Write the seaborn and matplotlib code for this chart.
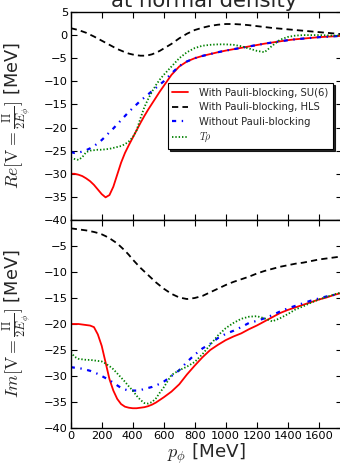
import numpy as np
import pandas as pd
import seaborn as sns
import matplotlib
matplotlib.use("Agg")
import matplotlib.pyplot as plt

# phi momentum grid [MeV]
p_phi = list(range(0, 625, 25)) + list(range(650, 1800, 50))

# Real part of the optical potential [MeV]
re_su6 = [-30.0, -30.0, -30.2, -30.5, -31.0, -31.6, -32.4, -33.4, -34.4, -35.1,
          -34.6, -32.8, -30.2, -27.6, -25.5, -23.8, -22.2, -20.6, -19.0, -17.5,
          -16.1, -14.8, -13.5, -12.2, -11.0,
          -8.6, -6.8, -5.7, -5.0, -4.5, -4.1, -3.7, -3.35, -3.05, -2.75, -2.45,
          -2.15, -1.85, -1.6, -1.35, -1.1, -0.9, -0.75, -0.6, -0.45, -0.35, -0.25, -0.15]
re_hls = [1.5, 1.3, 1.1, 0.8, 0.5, 0.1, -0.3, -0.75, -1.2, -1.65,
          -2.1, -2.55, -3.0, -3.35, -3.7, -4.0, -4.2, -4.35, -4.45, -4.45,
          -4.35, -4.15, -3.8, -3.4, -2.9,
          -1.9, -0.7, 0.3, 1.1, 1.6, 2.0, 2.25, 2.4, 2.4, 2.3, 2.15,
          1.95, 1.75, 1.55, 1.4, 1.25, 1.1, 0.95, 0.8, 0.65, 0.5, 0.35, 0.2]
re_free = [-25.3, -25.5, -25.4, -25.2, -24.9, -24.5, -24.0, -23.4, -22.7, -21.9,
           -21.0, -20.2, -19.3, -18.4, -17.5, -16.6, -15.8, -15.0, -14.2, -13.5,
           -12.8, -12.1, -11.4, -10.7, -10.0,
           -8.3, -6.7, -5.7, -5.0, -4.5, -4.1, -3.7, -3.35, -3.05, -2.75, -2.45,
           -2.15, -1.85, -1.6, -1.35, -1.1, -0.9, -0.75, -0.6, -0.45, -0.35, -0.25, -0.15]
re_trho = [-26.5, -26.8, -27.0, -26.4, -25.3, -25.0, -24.9, -24.8, -24.8, -24.7,
           -24.6, -24.4, -24.2, -24.0, -23.6, -23.0, -22.1, -20.6, -18.0, -15.6,
           -13.8, -12.2, -10.8, -9.6, -8.6,
           -6.8, -5.0, -3.7, -2.8, -2.3, -2.1, -2.0, -2.0, -2.1, -2.4, -2.9,
           -3.4, -3.7, -2.3, -1.0, -0.4, -0.1, 0.0, 0.0, 0.0, -0.05, -0.1, -0.1]

# Imaginary part of the optical potential [MeV]
im_su6 = [-20.0, -20.0, -20.0, -20.1, -20.2, -20.3, -20.6, -22.0, -24.2, -27.4,
          -30.6, -32.8, -34.4, -35.4, -35.9, -36.1, -36.2, -36.2, -36.1, -36.0,
          -35.8, -35.5, -35.1, -34.6, -34.1,
          -33.0, -31.6, -29.7, -28.0, -26.4, -25.0, -24.0, -23.1, -22.4, -21.8, -21.0,
          -20.3, -19.5, -18.7, -17.9, -17.3, -16.8, -16.3, -15.8, -15.3, -14.9, -14.4, -14.0]
im_hls = [-1.6, -1.7, -1.8, -1.9, -2.0, -2.15, -2.3, -2.5, -2.75, -3.1,
          -3.5, -4.0, -4.5, -5.2, -5.9, -6.7, -7.6, -8.4, -9.2, -9.9,
          -10.6, -11.3, -12.0, -12.6, -13.2,
          -14.2, -14.9, -15.2, -15.0, -14.6, -13.9, -13.2, -12.5, -11.9, -11.4, -10.9,
          -10.3, -9.8, -9.4, -9.0, -8.7, -8.4, -8.2, -7.9, -7.6, -7.4, -7.2, -7.0]
im_free = [-28.3, -28.4, -28.5, -28.6, -28.8, -29.0, -29.3, -29.6, -30.0, -30.4,
           -30.8, -31.3, -31.8, -32.3, -32.6, -32.8, -32.8, -32.8, -32.7, -32.5,
           -32.3, -32.1, -31.8, -31.5, -31.1,
           -30.0, -28.9, -27.3, -25.9, -24.7, -23.8, -22.7, -21.9, -21.3, -20.6, -19.8,
           -19.4, -18.9, -18.3, -17.6, -17.0, -16.5, -16.0, -15.5, -15.1, -14.7, -14.4, -14.1]
im_trho = [-25.4, -26.3, -26.7, -26.8, -26.9, -26.9, -27.0, -27.1, -27.2, -27.6,
           -28.1, -28.7, -29.5, -30.3, -31.1, -32.0, -32.8, -33.8, -34.6, -35.2,
           -35.3, -35.0, -34.3, -33.2, -32.2,
           -29.8, -28.9, -28.2, -27.3, -25.8, -24.0, -22.2, -20.8, -19.8, -19.0, -18.6,
           -18.5, -18.9, -19.5, -18.9, -18.1, -17.2, -16.6, -15.9, -15.3, -14.8, -14.3, -13.9]

models = ["With Pauli-blocking, SU(6)", "With Pauli-blocking, HLS",
          "Without Pauli-blocking", r"$T\rho$"]
x_ticks = list(range(0, 1800, 200))
re_ticks = list(range(-40, 10, 5))
im_ticks = list(range(-40, 0, 5))

colors = {models[0]: "#ff0000", models[1]: "#000000",
          models[2]: "#0000ff", models[3]: "#008000"}
dashes = {models[0]: "", models[1]: (4.5, 3.0),
          models[2]: (3.0, 4.0, 1.0, 4.0), models[3]: (1.0, 1.4)}
widths = [1.3, 1.3, 1.6, 1.3]


def long_table(series):
    frames = [pd.DataFrame({"p": p_phi, "v": vals, "model": name})
              for name, vals in zip(models, series)]
    return pd.concat(frames, ignore_index=True)


df_re = long_table([re_su6, re_hls, re_free, re_trho])
df_im = long_table([im_su6, im_hls, im_free, im_trho])

sns.set_style("ticks")
plt.rcParams.update({
    "font.family": ["DejaVu Sans"],
    "mathtext.fontset": "cm",
    "lines.scale_dashes": False,
    "xtick.direction": "in", "ytick.direction": "in",
    "xtick.top": True, "ytick.right": True,
    "xtick.major.size": 4, "ytick.major.size": 4,
    "xtick.color": "black", "ytick.color": "black",
    "axes.edgecolor": "black", "axes.linewidth": 1.0,
})

fig = plt.figure(figsize=(3.40, 4.67), dpi=100)
W, H = 340.0, 467.0
left, right = 70.7 / W, 342.0 / W
ax_re = fig.add_axes([left, 1 - 220 / H, right - left, 208 / H])
ax_im = fig.add_axes([left, 1 - 428 / H, right - left, 208 / H])

for ax, df in ((ax_re, df_re), (ax_im, df_im)):
    sns.lineplot(data=df, x="p", y="v", hue="model", style="model",
                 hue_order=models, style_order=models, palette=colors,
                 dashes=dashes, estimator=None, sort=False, legend=False, ax=ax)
    for line, lw in zip(ax.get_lines(), widths):
        line.set_linewidth(lw)
    ax.set_xlim(0, 1750)
    ax.set_xticks(x_ticks)
    ax.tick_params(labelsize=8.2, width=0.8, pad=2)

ax_re.set_ylim(-40, 5)
ax_re.set_yticks(re_ticks)
ax_re.set_xticklabels([])
ax_re.set_xlabel("")
ax_im.set_ylim(-40, 0)
ax_im.set_yticks(im_ticks)

ax_re.set_ylabel(r"$Re[\mathrm{V}=\frac{\Pi}{2E_\phi}]$ [MeV]", fontsize=12.8)
ax_im.set_ylabel(r"$Im[\mathrm{V}=\frac{\Pi}{2E_\phi}]$ [MeV]", fontsize=12.8)
ax_re.yaxis.set_label_coords(-0.14, 0.5)
ax_im.yaxis.set_label_coords(-0.14, 0.5)
ax_im.set_xlabel(r"$p_\phi$ [MeV]", fontsize=13.2)
ax_im.xaxis.set_label_coords(0.5, -0.068)

leg = ax_re.legend(handles=ax_re.get_lines()[:4], labels=models,
                   loc="center right", bbox_to_anchor=(0.985, 0.5),
                   fontsize=7.2, frameon=True, fancybox=False, framealpha=1,
                   edgecolor="black",
                   shadow={"color": "black", "alpha": 0.85, "ox": 1.5, "oy": -1.5},
                   handlelength=1.6, handletextpad=1.1, labelspacing=0.45,
                   borderpad=0.45)
leg.get_frame().set_linewidth(0.8)

fig.text(204 / W, 1 - 6.7 / H, "at normal density", ha="center",
         va="baseline", fontsize=15.3)

fig.savefig("out.png", dpi=100)
